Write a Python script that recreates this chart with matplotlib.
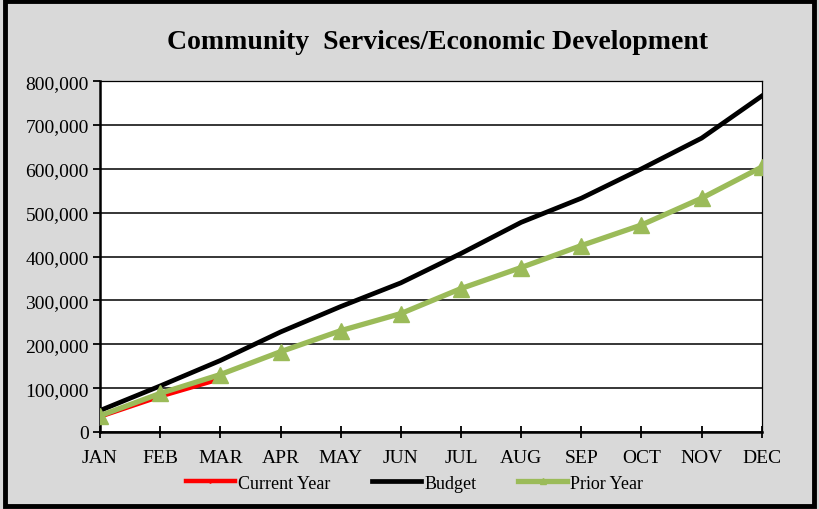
import matplotlib
matplotlib.use('Agg')
import matplotlib.pyplot as plt
from matplotlib.patches import Rectangle
from matplotlib.ticker import FuncFormatter

# chart data
months = ['JAN', 'FEB', 'MAR', 'APR', 'MAY', 'JUN', 'JUL', 'AUG', 'SEP', 'OCT', 'NOV', 'DEC']
current_year = [35000, 81000, 121000]
budget = [49000, 105000, 163000, 228000, 286000, 340000, 407000, 478000, 533000, 600000, 670000, 766000]
prior_year = [37000, 88000, 131000, 183000, 231000, 270000, 327000, 375000, 425000, 472000, 533000, 604000]
title = 'Community  Services/Economic Development'

plt.rcParams['font.family'] = ['Liberation Serif', 'DejaVu Serif']
bg = '#d9d9d9'

fig = plt.figure(figsize=(8.2, 5.1), dpi=100, facecolor=bg)
ax = fig.add_axes([0.122, 0.151, 0.807, 0.688])
ax.set_facecolor('white')

x = list(range(len(months)))
ax.plot(x[:len(current_year)], current_year, color='#ff0000', lw=3.2, marker='D', ms=4,
        label='Current Year', zorder=3)
ax.plot(x, budget, color='black', lw=3.4, label='Budget', zorder=4)
ax.plot(x, prior_year, color='#9bbb59', lw=3.8, marker='^', ms=11, label='Prior Year', zorder=5)

ax.set_xlim(0, 11)
ax.set_ylim(0, 800000)
ax.set_yticks(range(0, 800001, 100000))
ax.yaxis.set_major_formatter(FuncFormatter(lambda v, p: '{:,.0f}'.format(v)))
ax.set_xticks(x)
ax.set_xticklabels(months)
ax.grid(axis='y', color='black', lw=1.1)
ax.set_axisbelow(True)

for side in ['top', 'right']:
    ax.spines[side].set_linewidth(0.9)
for side in ['left', 'bottom']:
    ax.spines[side].set_linewidth(1.8)
ax.tick_params(axis='y', direction='out', length=5, width=1.3, labelsize=14, pad=3)
ax.tick_params(axis='x', direction='inout', length=8, width=1.3, labelsize=14, pad=8)

fig.text(0.533, 0.917, title, ha='center', va='center', fontsize=20, fontweight='bold')

leg = ax.legend(loc='upper center', bbox_to_anchor=(0.475, -0.075), ncol=3, frameon=False,
                fontsize=13, handlelength=2.75, columnspacing=2.3, handletextpad=0.15,
                markerscale=0.45)

# black frame round the whole chart
fig.patches.append(Rectangle((0.006, 0.006), 0.987, 0.99, transform=fig.transFigure,
                             fill=False, edgecolor='black', lw=3.5))

fig.savefig('out.png', dpi=100, facecolor=bg)
